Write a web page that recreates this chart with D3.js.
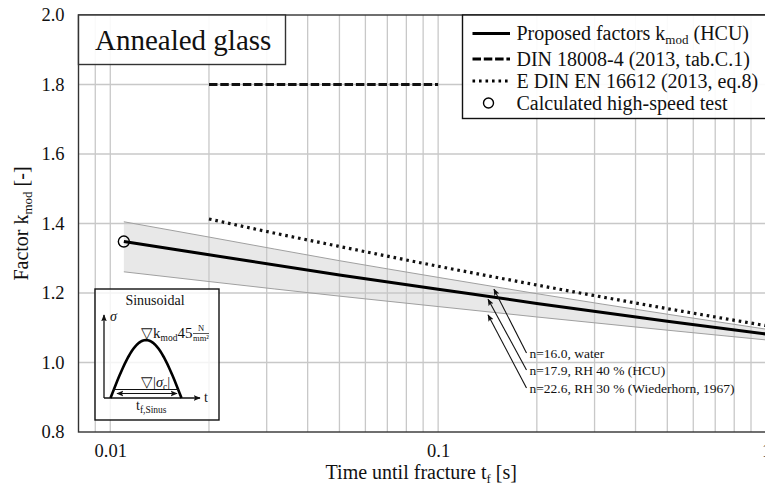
<!DOCTYPE html>
<html>
<head>
<meta charset="utf-8">
<script src="https://cdn.jsdelivr.net/npm/d3@7"></script>
<style>
  html, body { margin: 0; padding: 0; background: #fff; }
  svg { display: block; }
</style>
</head>
<body>
<svg id="chart" width="765" height="491"></svg>
<script>
// Time until fracture t_f [s]
const proposedT = [0.011, 0.02, 0.05, 0.1, 0.2, 0.5, 1];
// Proposed factors k_mod (HCU), n = 17.9
const proposedK = [1.348, 1.310, 1.252, 1.211, 1.170, 1.119, 1.082];
// Scatter band: n = 16.0 (water) upper edge, n = 22.6 (RH 30 %) lower edge
const bandUpperK = [1.405, 1.361, 1.293, 1.245, 1.198, 1.139, 1.096];
const bandLowerK = [1.261, 1.233, 1.191, 1.161, 1.131, 1.093, 1.065];
// DIN 18008-4 (2013, tab. C.1)
const dinT = [0.02, 0.1];
const dinK = [1.8, 1.8];
// E DIN EN 16612 (2013, eq. 8)
const enT = [0.02, 0.03, 0.05, 0.1, 0.2, 0.5, 1];
const enK = [1.413, 1.377, 1.334, 1.277, 1.223, 1.155, 1.106];
// Calculated high-speed test
const testT = [0.011];
const testK = [1.348];
// Arrow targets of the n-annotations
const noteLabels = ["n=16.0, water", "n=17.9, RH 40 % (HCU)", "n=22.6, RH 30 % (Wiederhorn, 1967)"];
const noteT = [0.148, 0.142, 0.142];
const noteK = [1.211, 1.182, 1.137];
// Axis ticks
const xTicks = [0.01, 0.1, 1];
const xTickLabels = ["0.01", "0.1", "1"];
const yTicks = [0.8, 1.0, 1.2, 1.4, 1.6, 1.8, 2.0];
const xGrid = [0.009, 0.01, 0.02, 0.03, 0.04, 0.05, 0.06, 0.07, 0.08, 0.09, 0.1,
               0.2, 0.3, 0.4, 0.5, 0.6, 0.7, 0.8, 0.9, 1];
const yGrid = [1.0, 1.2, 1.4, 1.6, 1.8];

const FONT = "Liberation Serif";
const svg = d3.select("#chart");
const L = 78.5, R = 766, T = 15, B = 432;
const x = d3.scaleLog().domain([0.008, 1]).range([L, R]);
const y = d3.scaleLinear().domain([0.8, 2.0]).range([B, T]);

const defs = svg.append("defs");
defs.append("clipPath").attr("id", "plotClip")
  .append("rect").attr("x", L).attr("y", T).attr("width", R - L).attr("height", B - T);
function arrowMarker(id, size) {
  defs.append("marker").attr("id", id)
    .attr("viewBox", "0 -5 10 10").attr("refX", 9).attr("refY", 0)
    .attr("markerWidth", size).attr("markerHeight", size).attr("markerUnits", "userSpaceOnUse")
    .attr("orient", "auto-start-reverse")
    .append("path").attr("d", "M0,-4L10,0L0,4L2,0Z").attr("fill", "#111");
}
arrowMarker("arrS", 7);

function txt(parent, size) {
  return parent.append("text").style("font-family", FONT).attr("font-size", size).attr("fill", "#111");
}

const plot = svg.append("g").attr("clip-path", "url(#plotClip)");

// scatter band
const bandIdx = d3.range(proposedT.length);
plot.append("path")
  .attr("d", d3.area().curve(d3.curveMonotoneX)
    .x(i => x(proposedT[i])).y0(i => y(bandLowerK[i])).y1(i => y(bandUpperK[i]))(bandIdx))
  .attr("fill", "#e8e8e8");

// grid
plot.append("g").selectAll("line").data(xGrid).join("line")
  .attr("x1", d => x(d)).attr("x2", d => x(d)).attr("y1", T).attr("y2", B)
  .attr("stroke", "#c8c8c8").attr("stroke-width", 1.3);
plot.append("g").selectAll("line").data(yGrid).join("line")
  .attr("x1", L).attr("x2", R).attr("y1", d => y(d)).attr("y2", d => y(d))
  .attr("stroke", "#c8c8c8").attr("stroke-width", 1.3);

// band edges
const edge = k => d3.line().curve(d3.curveMonotoneX).x(i => x(proposedT[i])).y(i => y(k[i]))(bandIdx);
[bandUpperK, bandLowerK].forEach(k => plot.append("path").attr("d", edge(k))
  .attr("fill", "none").attr("stroke", "#a0a0a0").attr("stroke-width", 1));

// E DIN EN 16612 (dotted)
plot.append("path")
  .attr("d", d3.line().curve(d3.curveMonotoneX).x(i => x(enT[i])).y(i => y(enK[i]))(d3.range(enT.length)))
  .attr("fill", "none").attr("stroke", "#111").attr("stroke-width", 3.2)
  .attr("stroke-dasharray", "2.6,3.9");

// DIN 18008-4 (dashed)
plot.append("path")
  .attr("d", d3.line().x(i => x(dinT[i])).y(i => y(dinK[i]))(d3.range(dinT.length)))
  .attr("fill", "none").attr("stroke", "#111").attr("stroke-width", 3)
  .attr("stroke-dasharray", "8.5,2.8");

// proposed k_mod (solid)
plot.append("path")
  .attr("d", edge(proposedK))
  .attr("fill", "none").attr("stroke", "#000").attr("stroke-width", 3);

// high-speed test
plot.selectAll("circle.test").data(testT).join("circle").attr("class", "test")
  .attr("cx", d => x(d)).attr("cy", (d, i) => y(testK[i])).attr("r", 5.5)
  .attr("fill", "none").attr("stroke", "#000").attr("stroke-width", 1.4);

// annotations with arrows
const noteTailX = 526.5, noteTailY = [353, 370, 388];
noteLabels.forEach((lab, i) => {
  svg.append("line")
    .attr("x1", noteTailX).attr("y1", noteTailY[i])
    .attr("x2", x(noteT[i])).attr("y2", y(noteK[i]))
    .attr("stroke", "#111").attr("stroke-width", 1.1)
    .attr("marker-end", "url(#arrS)");
  txt(svg, 13.5).attr("x", noteTailX + 3).attr("y", noteTailY[i] + 4.5).text(lab);
});

// frame
svg.append("rect").attr("x", L).attr("y", T).attr("width", R - L).attr("height", B - T)
  .attr("fill", "none").attr("stroke", "#333").attr("stroke-width", 1.4);

// axes
const yAxis = svg.append("g").attr("transform", `translate(${L},0)`)
  .call(d3.axisLeft(y).tickValues(yTicks).tickSize(0).tickPadding(14).tickFormat(d3.format(".1f")));
const xAxis = svg.append("g").attr("transform", `translate(0,${B})`)
  .call(d3.axisBottom(x).tickValues(xTicks).tickSize(0).tickPadding(12)
    .tickFormat((d, i) => xTickLabels[i]));
[yAxis, xAxis].forEach(a => {
  a.select(".domain").remove();
  a.attr("font-family", FONT);
  a.selectAll("text").style("font-family", FONT).attr("font-size", 18.5).attr("fill", "#111");
});

// axis titles
const xt = txt(svg, 20).attr("x", (L + R) / 2 - 1).attr("y", 479).attr("text-anchor", "middle");
xt.append("tspan").text("Time until fracture t");
xt.append("tspan").attr("font-size", 13).attr("dy", 4).text("f");
xt.append("tspan").attr("dy", -4).text(" [s]");

const yt = txt(svg, 20).attr("transform", `translate(28,${(T + B) / 2}) rotate(-90)`)
  .attr("text-anchor", "middle");
yt.append("tspan").text("Factor k");
yt.append("tspan").attr("font-size", 13).attr("dy", 4).text("mod");
yt.append("tspan").attr("dy", -4).text(" [-]");

// title box
svg.append("rect").attr("x", L).attr("y", T).attr("width", 207).attr("height", 49.5)
  .attr("fill", "#fff").attr("fill-opacity", 0.9).attr("stroke", "#333").attr("stroke-width", 1.4);
txt(svg, 29).attr("x", 95).attr("y", 50).text("Annealed glass");

// legend
const lg = svg.append("g");
lg.append("rect").attr("x", 462.5).attr("y", T).attr("width", 310).attr("height", 103.5)
  .attr("fill", "#fff").attr("fill-opacity", 0.92).attr("stroke", "#111").attr("stroke-width", 1.4);
const legRows = [
  { y: 33.5, kind: "solid" }, { y: 59, kind: "dash" }, { y: 81, kind: "dot" }, { y: 103, kind: "circle" }
];
legRows.forEach(r => {
  if (r.kind === "circle") {
    lg.append("circle").attr("cx", 488.5).attr("cy", r.y).attr("r", 5)
      .attr("fill", "none").attr("stroke", "#000").attr("stroke-width", 1.4);
  } else {
    lg.append("line").attr("x1", 472.5).attr("x2", 510).attr("y1", r.y).attr("y2", r.y)
      .attr("stroke", "#000").attr("stroke-width", 3)
      .attr("stroke-dasharray", r.kind === "dash" ? "8.5,2.8" : r.kind === "dot" ? "2.6,3.9" : null);
  }
});
const lt1 = txt(lg, 20).attr("x", 516.5).attr("y", 40);
lt1.append("tspan").text("Proposed factors k");
lt1.append("tspan").attr("font-size", 13).attr("dy", 4).text("mod");
lt1.append("tspan").attr("dy", -4).text(" (HCU)");
txt(lg, 20).attr("x", 516.5).attr("y", 65.5).text("DIN 18008-4 (2013, tab.C.1)");
txt(lg, 20).attr("x", 516.5).attr("y", 87.5).text("E DIN EN 16612 (2013, eq.8)");
txt(lg, 20).attr("x", 516.5).attr("y", 109.5).text("Calculated high-speed test");

// inset: sinusoidal load pulse
const ins = svg.append("g");
ins.append("rect").attr("x", 95).attr("y", 289).attr("width", 124).attr("height", 131)
  .attr("fill", "#fff").attr("fill-opacity", 0.8).attr("stroke", "#111").attr("stroke-width", 1.4);
txt(ins, 14).attr("x", 155).attr("y", 305).attr("text-anchor", "middle").text("Sinusoidal");
const ox = 104, oy = 398;
ins.append("line").attr("x1", ox).attr("y1", oy).attr("x2", ox).attr("y2", 315)
  .attr("stroke", "#111").attr("stroke-width", 1.3).attr("marker-end", "url(#arrS)");
ins.append("line").attr("x1", ox).attr("y1", oy).attr("x2", 200).attr("y2", oy)
  .attr("stroke", "#111").attr("stroke-width", 1.3).attr("marker-end", "url(#arrS)");
txt(ins, 14).attr("x", 110).attr("y", 321).attr("font-style", "italic").text("σ");
txt(ins, 14).attr("x", 204).attr("y", 402).text("t");
// half sine between the two zero crossings
const sx = d3.scaleLinear().domain([0, Math.PI]).range([110.5, 181.5]);
const phases = d3.range(0, 41).map(i => i * Math.PI / 40);
ins.append("path")
  .attr("d", d3.line().x(p => sx(p)).y(p => oy - 58 * Math.sin(p))(phases))
  .attr("fill", "none").attr("stroke", "#000").attr("stroke-width", 2.6);
ins.append("line").attr("x1", 113).attr("x2", 179).attr("y1", 389.5).attr("y2", 389.5)
  .attr("stroke", "#111").attr("stroke-width", 1.1);
ins.append("line").attr("x1", 117).attr("x2", 177).attr("y1", 393.5).attr("y2", 393.5)
  .attr("stroke", "#111").attr("stroke-width", 1.1)
  .attr("marker-start", "url(#arrS)").attr("marker-end", "url(#arrS)");
const pk = txt(ins, 15).attr("x", 141).attr("y", 338);
pk.append("tspan").text("▽k");
pk.append("tspan").attr("font-size", 9.5).attr("dy", 3).text("mod");
pk.append("tspan").attr("dy", -3).text("45");
txt(ins, 8.5).attr("x", 201).attr("y", 331).attr("text-anchor", "middle").text("N");
ins.append("line").attr("x1", 193).attr("x2", 209).attr("y1", 333.5).attr("y2", 333.5).attr("stroke", "#111").attr("stroke-width", 0.7);
txt(ins, 8.5).attr("x", 201).attr("y", 341).attr("text-anchor", "middle").text("mm²");
const sc = txt(ins, 14.5).attr("x", 141).attr("y", 387);
sc.append("tspan").text("▽|");
sc.append("tspan").attr("font-style", "italic").text("σ");
sc.append("tspan").attr("font-size", 9.5).attr("dy", 3).text("c");
sc.append("tspan").attr("dy", -3).text("|");
const ts = txt(ins, 14).attr("x", 136).attr("y", 410);
ts.append("tspan").text("t");
ts.append("tspan").attr("font-size", 9.5).attr("dy", 3).text("f,Sinus");
</script>
</body>
</html>
